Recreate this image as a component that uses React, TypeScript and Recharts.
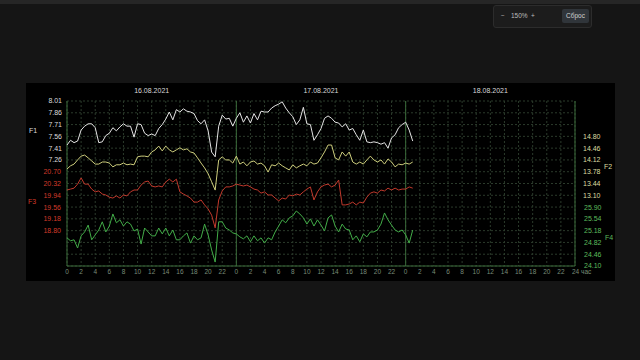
import {
  ComposedChart,
  Line,
  XAxis,
  YAxis,
  CartesianGrid,
  ReferenceLine,
} from "recharts";

// Sensor readings every 30 minutes, starting 16.08.2021 00:00
const f1 = [
  7.45, 7.51, 7.48, 7.50, 7.64, 7.69, 7.72, 7.72, 7.67, 7.48,
  7.49, 7.57, 7.60, 7.67, 7.63, 7.68, 7.72, 7.69, 7.69, 7.55,
  7.72, 7.71, 7.60, 7.57, 7.59, 7.57, 7.66, 7.71, 7.78, 7.87,
  7.77, 7.90, 7.87, 7.91, 7.88, 7.87, 7.85, 7.76, 7.72, 7.77,
  7.63, 7.36, 7.30, 7.69, 7.83, 7.78, 7.79, 7.69, 7.79, 7.86,
  7.74, 7.82, 7.73, 7.85, 7.77, 7.88, 7.87, 7.87, 7.92, 7.95,
  7.97, 8.00, 7.92, 7.86, 7.81, 7.71, 7.77, 7.93, 7.72, 7.71,
  7.51, 7.58, 7.66, 7.79, 7.82, 7.79, 7.74, 7.73, 7.68, 7.72,
  7.64, 7.66, 7.58, 7.51, 7.64, 7.49, 7.48, 7.49, 7.48, 7.46,
  7.48, 7.41, 7.54, 7.58, 7.67, 7.71, 7.74, 7.64, 7.50,
];
const f2 = [
  13.86, 13.95, 14.00, 14.12, 14.23, 14.26, 14.18, 14.09, 14.00, 14.00,
  14.06, 14.06, 14.03, 13.92, 13.98, 13.98, 14.03, 13.98, 14.00, 13.98,
  14.21, 14.23, 14.23, 14.21, 14.35, 14.41, 14.52, 14.38, 14.52, 14.41,
  14.35, 14.41, 14.47, 14.41, 14.44, 14.35, 14.32, 14.18, 14.03, 13.89,
  13.72, 13.49, 13.25, 14.12, 14.21, 14.12, 14.12, 14.03, 14.23, 14.00,
  14.06, 13.95, 14.06, 14.09, 14.00, 14.03, 13.95, 13.77, 13.98, 13.95,
  14.03, 13.95, 13.89, 13.83, 13.98, 13.89, 13.95, 14.00, 13.95, 14.06,
  14.00, 14.03, 14.18, 14.35, 14.55, 14.55, 14.18, 14.12, 14.35, 14.23,
  14.35, 14.06, 14.00, 14.06, 14.00, 14.12, 14.23, 14.12, 14.06, 14.12,
  14.00, 14.15, 14.06, 13.92, 14.00, 13.98, 14.03, 14.00, 14.06,
];
const f3 = [
  20.11, 20.14, 20.17, 20.30, 20.50, 20.30, 20.30, 20.14, 20.05, 20.08,
  19.98, 19.95, 19.88, 19.85, 19.92, 19.85, 19.95, 19.92, 20.05, 20.11,
  20.11, 20.27, 20.37, 20.40, 20.24, 20.21, 20.24, 20.21, 20.37, 20.46,
  20.37, 20.46, 20.05, 19.98, 19.92, 19.85, 19.72, 19.72, 19.79, 19.63,
  19.50, 19.30, 18.89, 19.79, 20.08, 20.21, 20.21, 20.24, 20.30, 20.27,
  20.24, 20.27, 20.21, 20.14, 20.11, 20.01, 20.05, 19.95, 19.95, 19.85,
  19.76, 19.85, 19.82, 19.95, 19.92, 19.98, 19.95, 20.05, 20.14, 20.21,
  19.79, 20.05, 20.21, 20.27, 20.30, 20.21, 20.27, 20.43, 19.63, 19.63,
  19.66, 19.72, 19.63, 19.72, 19.69, 19.88, 20.01, 20.05, 20.01, 20.11,
  20.08, 20.17, 20.11, 20.17, 20.11, 20.14, 20.14, 20.21, 20.17,
];
const f4 = [
  24.96, 24.87, 24.90, 24.65, 25.02, 25.14, 25.35, 24.90, 25.05, 25.20,
  25.45, 25.14, 25.32, 25.69, 25.42, 25.51, 25.32, 25.45, 25.38, 25.17,
  25.23, 24.77, 25.26, 25.14, 25.02, 25.02, 25.26, 25.08, 25.26, 25.02,
  25.20, 24.90, 24.90, 25.02, 25.11, 24.80, 25.02, 24.90, 24.96, 25.38,
  25.05, 24.59, 24.22, 25.45, 25.45, 25.26, 25.20, 25.11, 25.08, 24.99,
  24.93, 25.02, 24.84, 25.02, 24.87, 24.96, 24.80, 24.96, 24.90, 25.14,
  25.32, 25.51, 25.42, 25.57, 25.63, 25.78, 25.69, 25.57, 25.38, 25.54,
  25.32, 25.51, 25.35, 25.17, 25.57, 25.66, 25.32, 25.14, 25.38, 25.23,
  25.20, 24.90, 25.02, 24.84, 25.08, 24.99, 25.14, 25.14, 25.20, 25.38,
  25.72, 25.51, 25.35, 25.20, 25.14, 25.20, 25.05, 24.80, 25.20,
];

const STEP_HOURS = 0.5;

// axis labels
const f1Ticks = [8.01, 7.86, 7.71, 7.56, 7.41, 7.26];
const f2Ticks = [14.8, 14.46, 14.12, 13.78, 13.44, 13.1];
const f3Ticks = [20.7, 20.32, 19.94, 19.56, 19.18, 18.8];
const f4Ticks = [25.9, 25.54, 25.18, 24.82, 24.46, 24.1];
const dates = ["16.08.2021", "17.08.2021", "18.08.2021"];
const dateTicks = [12, 36, 60];
const hourTicks = [
  0, 2, 4, 6, 8, 10, 12, 14, 16, 18, 20, 22,
  24, 26, 28, 30, 32, 34, 36, 38, 40, 42, 44, 46,
  48, 50, 52, 54, 56, 58, 60, 62, 64, 66, 68, 70, 72,
];
const dayBorders = [0, 24, 48, 72];

const GRID_ROWS = 14;

const FONT = '"Liberation Sans", Arial, sans-serif';
const GRID = "#2b3a2b";
const FRAME = "#3a6a3a";

// every series gets its own band of 5 grid rows, shifted down the plot
function bandDomain(ticks: number[], firstRow: number): [number, number] {
  const step = ticks[0] - ticks[1];
  const top = ticks[0] + firstRow * step;
  return [top - GRID_ROWS * step, top];
}

// horizontal grid: one line per row, shared by all four bands
function gridRowsY({ offset }: any) {
  const out: number[] = [];
  for (let r = 0; r <= GRID_ROWS; r++) out.push(offset.top + (r * offset.height) / GRID_ROWS);
  return out;
}

const series = [
  { key: "f1", name: "F1", side: "left", ticks: f1Ticks, firstRow: 0, line: "#e4e4e4", text: "#dcdcdc" },
  { key: "f3", name: "F3", side: "left", ticks: f3Ticks, firstRow: 6, line: "#c0392c", text: "#d23a2a" },
  { key: "f2", name: "F2", side: "right", ticks: f2Ticks, firstRow: 3, line: "#cdcd7c", text: "#dcdca0" },
  { key: "f4", name: "F4", side: "right", ticks: f4Ticks, firstRow: 9, line: "#42ac48", text: "#5cbc5c" },
];

const rows = f1.map((v, i) => ({
  h: i * STEP_HOURS,
  f1: v,
  f2: f2[i],
  f3: f3[i],
  f4: f4[i],
}));

function AxisTag({ viewBox, text, color, side, firstRow }: any) {
  if (!viewBox) return null;
  const rowH = viewBox.height / GRID_ROWS;
  const y = viewBox.y + (firstRow + 2.5) * rowH;
  const x = side === "left" ? viewBox.x - 33 : viewBox.x + 33;
  return (
    <text x={x} y={y} dy={3} textAnchor="middle" fill={color} fontSize={7} fontFamily={FONT}>
      {text}
    </text>
  );
}

function HourTick({ x, y, payload }: any) {
  const h = payload.value;
  const last = h === 72;
  return (
    <text
      x={last ? x - 3 : x}
      y={y}
      dy="0.71em"
      textAnchor={last ? "start" : "middle"}
      fill="#788c78"
      fontSize={6.5}
      fontFamily={FONT}
    >
      {last ? "24 час" : String(h % 24)}
    </text>
  );
}

function SensorChart() {
  return (
    <ComposedChart
      width={589}
      height={198}
      data={rows}
      margin={{ top: 4, right: 38, bottom: 1, left: 39 }}
      style={{ background: "#000" }}
    >
      <CartesianGrid
        xAxisId="hours"
        yAxisId="f1"
        stroke={GRID}
        strokeDasharray="2 2"
        horizontalCoordinatesGenerator={gridRowsY}
      />
      <XAxis
        xAxisId="hours"
        dataKey="h"
        type="number"
        domain={[0, 72]}
        ticks={hourTicks}
        interval={0}
        height={14}
        tickSize={0}
        tickMargin={3}
        tickLine={false}
        axisLine={{ stroke: FRAME }}
        tick={<HourTick />}
      />
      <XAxis
        xAxisId="days"
        orientation="top"
        dataKey="h"
        type="number"
        domain={[0, 72]}
        ticks={dateTicks}
        interval={0}
        height={14}
        tickSize={0}
        tickMargin={8}
        tickLine={false}
        axisLine={false}
        tick={{ fill: "#d8d8d8", fontSize: 7, fontFamily: FONT }}
        tickFormatter={(_v: number, i: number) => dates[i]}
      />
      {series.map((s) => (
        <YAxis
          key={s.key}
          yAxisId={s.key}
          orientation={s.side as "left" | "right"}
          type="number"
          domain={bandDomain(s.ticks, s.firstRow)}
          allowDataOverflow
          ticks={s.ticks}
          interval={0}
          width={1}
          tickSize={0}
          tickMargin={s.side === "left" ? 5 : 8}
          tickLine={false}
          axisLine={false}
          tick={{ fill: s.text, fontSize: 7, fontFamily: FONT }}
          tickFormatter={(v: number) => v.toFixed(2)}
          label={<AxisTag text={s.name} color={s.text} side={s.side} firstRow={s.firstRow} />}
        />
      ))}
      {dayBorders.map((d) => (
        <ReferenceLine key={d} x={d} xAxisId="hours" yAxisId="f1" stroke={FRAME} />
      ))}
      {series.map((s) => (
        <Line
          key={s.key}
          xAxisId="hours"
          yAxisId={s.key}
          type="linear"
          dataKey={s.key}
          stroke={s.line}
          strokeWidth={1}
          dot={false}
          isAnimationActive={false}
        />
      ))}
    </ComposedChart>
  );
}

function ZoomWidget() {
  return (
    <div
      style={{
        position: "absolute",
        left: 493,
        top: 5,
        width: 97,
        height: 21,
        background: "#1c1c1c",
        border: "1px solid #2c2c2c",
        borderRadius: 3,
        color: "#bdbdbd",
        fontSize: 6.5,
        fontFamily: FONT,
      }}
    >
      <span style={{ position: "absolute", left: 7, top: 6 }}>−</span>
      <span style={{ position: "absolute", left: 17, top: 6 }}>150%</span>
      <span style={{ position: "absolute", left: 37, top: 6 }}>+</span>
      <div
        style={{
          position: "absolute",
          left: 68,
          top: 3,
          width: 27,
          height: 14,
          background: "#30353a",
          borderRadius: 2,
          textAlign: "center",
          lineHeight: "14px",
          color: "#d0d0d0",
        }}
      >
        Сброс
      </div>
    </div>
  );
}

export default function App() {
  return (
    <div
      style={{
        position: "fixed",
        left: 0,
        top: 0,
        width: 640,
        height: 360,
        background: "#151515",
        fontFamily: FONT,
        overflow: "hidden",
      }}
    >
      <div style={{ position: "absolute", left: 0, top: 0, width: 640, height: 4, background: "#262626" }} />
      <ZoomWidget />
      <div style={{ position: "absolute", left: 26, top: 83, width: 589, height: 198, background: "#000" }}>
        <SensorChart />
      </div>
    </div>
  );
}
